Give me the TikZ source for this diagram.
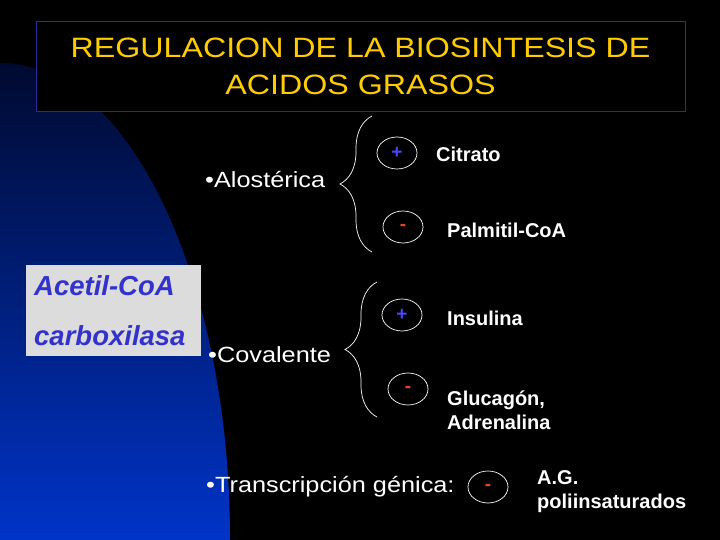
\documentclass[tikz,border=0pt]{standalone}
\usepackage{fontspec}
\setmainfont{Liberation Sans}
\newfontfamily\widefont[FakeStretch=1.15]{Liberation Sans}
\usetikzlibrary{shapes.geometric,decorations.pathreplacing}

\definecolor{titlegold}{HTML}{FFCC00}
\definecolor{framecol}{HTML}{2A2A9A}
\definecolor{boxgrey}{HTML}{DCDCDC}
\definecolor{enzblue}{HTML}{3333CC}
\definecolor{plusblue}{HTML}{4848FF}
\definecolor{minusred}{HTML}{E04828}
\definecolor{navytop}{HTML}{000A30}
\definecolor{navybot}{HTML}{0034C8}

\begin{document}
\begin{tikzpicture}[x=1pt,y=-1pt,
    item/.style={text=white, anchor=base west, inner sep=0pt, font=\widefont\fontsize{22}{26}\selectfont},
    effector/.style={text=white, anchor=base west, inner sep=0pt, align=left, font=\bfseries\fontsize{20}{24}\selectfont},
    sign/.style={draw=white, line width=0.7pt, ellipse, minimum width=40pt, minimum height=32pt, inner sep=0pt, font=\bfseries\fontsize{19}{19}\selectfont},
    curly/.style={draw=white, line width=0.7pt, decorate, decoration={brace, amplitude=32pt}},
    enz/.style={text=enzblue, anchor=base west, inner sep=0pt, font=\bfseries\itshape\fontsize{27.5}{30}\selectfont}]

    % Fondo
    \fill[black] (0,0) rectangle (720,540);
    \shade[top color=navytop, bottom color=navybot] (0,540) -- (230,540)
        arc[start angle=0, end angle=-90, x radius=230, y radius=477] -- cycle;

    % Titulo
    \node[draw=framecol, line width=0.8pt, fill=black, minimum width=649pt, minimum height=90pt,
          text=titlegold, align=center, font=\widefont\fontsize{28}{37}\selectfont]
        (title) at (360.5,66) {REGULACION DE LA BIOSINTESIS DE\\ACIDOS GRASOS};

    % Enzima
    \node[fill=boxgrey, minimum width=175pt, minimum height=91pt, anchor=north west, inner sep=0pt] (enzbox) at (26,265) {};
    \node[enz] (enzA) at (34,295) {Acetil-CoA};
    \node[enz] (enzB) at (34,345) {carboxilasa};

    % Tipos de regulacion
    \node[item] (alost) at (205,188) {•Alostérica};
    \node[item] (coval) at (208,362) {•Covalente};
    \node[item] (transc) at (206,492) {•Transcripción génica:};

    % Llaves
    \coordinate (aloTop) at (372,116);
    \coordinate (aloBot) at (372,252);
    \draw[curly] (aloBot) -- (aloTop);
    \coordinate (covTop) at (377,282);
    \coordinate (covBot) at (377,417);
    \draw[curly] (covBot) -- (covTop);

    % Signos
    \node[sign, text=plusblue] (citSign) at (397,153) {+};
    \node[sign, text=minusred] (palSign) at (403,227) {-};
    \node[sign, text=plusblue] (insSign) at (402,315) {+};
    \node[sign, text=minusred] (gluSign) at (408,389) {-};
    \node[sign, text=minusred] (agSign) at (488,487) {-};

    % Efectores
    \node[effector] (citrato) at (436,162) {Citrato};
    \node[effector] (palmitil) at (447,237) {Palmitil-CoA};
    \node[effector] (insulina) at (447,325) {Insulina};
    \node[effector] (glucagon) at (447,429) {Glucagón,\\Adrenalina};
    \node[effector] (agpoli) at (537,508) {A.G.\\poliinsaturados};
\end{tikzpicture}
\end{document}
